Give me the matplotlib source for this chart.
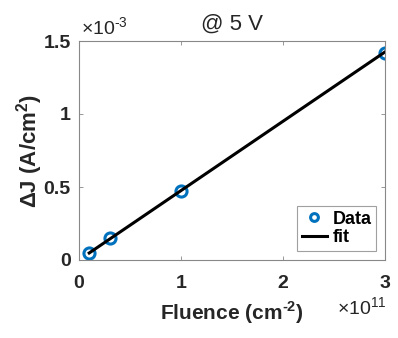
import matplotlib.pyplot as plt
import numpy as np

plt.rcParams['font.family'] = ['Liberation Sans', 'DejaVu Sans']
plt.rcParams['mathtext.fontset'] = 'custom'
plt.rcParams['mathtext.rm'] = 'Liberation Sans'
plt.rcParams['mathtext.bf'] = 'Liberation Sans:bold'

# data (fluence in 1e11 cm^-2, delta J in 1e-3 A/cm^2)
fluence = [0.1, 0.3, 1.0, 3.0]
delta_j = [0.05, 0.15, 0.47, 1.42]
fit_x = [0.1, 3.0]
fit_y = [0.048, 1.425]

blue = (0, 0.447, 0.741)
grey = '#888888'
dark = '#262626'

fig = plt.figure(figsize=(3.98, 3.38), dpi=100)
ax = fig.add_axes([79 / 398, 1 - 260 / 338, 306 / 398, 219 / 338])

ax.plot(fluence, delta_j, 'o', mfc='none', mec=blue, mew=2.2, ms=8, label='Data')
ax.plot(fit_x, fit_y, '-', color='black', lw=2.2, label='fit')

ax.set_xlim(0, 3)
ax.set_ylim(0, 1.5)
ax.set_xticks([0, 1, 2, 3])
ax.set_yticks([0, 0.5, 1, 1.5])
ax.set_xticklabels(['0', '1', '2', '3'])
ax.set_yticklabels(['0', '0.5', '1', '1.5'])
ax.tick_params(direction='in', length=3, width=0.6, color=grey, top=True, right=True,
               labelsize=14, labelcolor=dark)
ax.tick_params(axis='x', pad=11)
ax.tick_params(axis='y', pad=6)
for lbl in ax.get_xticklabels() + ax.get_yticklabels():
    lbl.set_fontweight('bold')
for s in ax.spines.values():
    s.set_color(grey)
    s.set_linewidth(0.8)

ax.set_xlabel('Fluence (cm$^{\\mathbf{\u2010}\\mathbf{2}}$)', fontsize=15, fontweight='bold', color=dark, labelpad=5)
ax.set_ylabel('ΔJ (A/cm$^{\\mathbf{2}}$)', fontsize=16, fontweight='bold', color=dark, labelpad=-1)
ax.set_title('@ 5 V', fontsize=16, color=dark, pad=8)

fig.text(81 / 398, 1 - 28 / 338, '×10$^{\u2010 3}$', fontsize=14, color=dark, va='center', ha='left')
fig.text(387 / 398, 1 - 308 / 338, '×10$^{11}$', fontsize=14, color=dark, va='center', ha='right')

leg = ax.legend(loc='lower right', fontsize=13, frameon=True, fancybox=False,
                handlelength=1.4, handletextpad=0.3, borderpad=0.25, labelspacing=0.1,
                borderaxespad=0.5, markerscale=0.7)
leg.get_frame().set_edgecolor(grey)
leg.get_frame().set_linewidth(0.8)
for t in leg.get_texts():
    t.set_fontweight('bold')

fig.savefig('out.png', dpi=100)
